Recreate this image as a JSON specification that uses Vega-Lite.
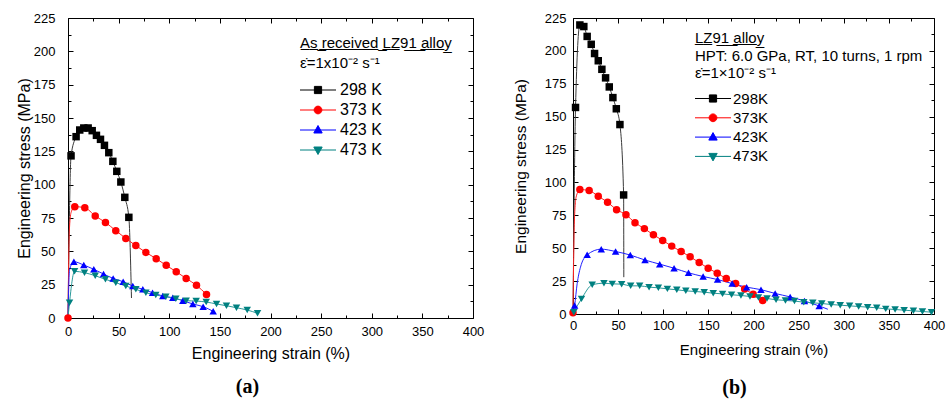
{
  "$schema": "https://vega.github.io/schema/vega-lite/v6.json",
  "background": "white",
  "padding": {"left": 15, "top": 11, "right": 5, "bottom": 5},
  "spacing": 28,
  "config": {
    "view": {"stroke": "#000", "strokeWidth": 1},
    "font": "Liberation Sans",
    "axis": {"grid": false, "domain": false, "tickColor": "#000", "tickWidth": 1, "labelColor": "#000", "titleColor": "#000", "titleFontWeight": "normal", "labelFont": "Liberation Sans", "titleFont": "Liberation Sans", "labelFlush": false, "labelOverlap": false},
    "legend": {"labelFont": "Liberation Sans", "titleFont": "Liberation Sans", "labelColor": "#000", "titleColor": "#000", "titleFontWeight": "normal", "symbolSize": 144, "symbolStrokeWidth": 1, "padding": 0, "titleLimit": 400}
  },
  "datasets": {
    "a": [
      {"series": "298 K", "strain": 0, "stress": 0, "kind": "curve"},
      {"series": "298 K", "strain": 3, "stress": 121.6, "kind": "marker"},
      {"series": "298 K", "strain": 8, "stress": 136, "kind": "marker"},
      {"series": "298 K", "strain": 11.6, "stress": 141, "kind": "marker"},
      {"series": "298 K", "strain": 15.6, "stress": 142.5, "kind": "marker"},
      {"series": "298 K", "strain": 19.9, "stress": 142.5, "kind": "marker"},
      {"series": "298 K", "strain": 23.9, "stress": 140.5, "kind": "marker"},
      {"series": "298 K", "strain": 28.1, "stress": 137, "kind": "marker"},
      {"series": "298 K", "strain": 32.1, "stress": 134, "kind": "marker"},
      {"series": "298 K", "strain": 36, "stress": 129.5, "kind": "marker"},
      {"series": "298 K", "strain": 40.3, "stress": 124, "kind": "marker"},
      {"series": "298 K", "strain": 44.3, "stress": 117.5, "kind": "marker"},
      {"series": "298 K", "strain": 48.2, "stress": 110, "kind": "marker"},
      {"series": "298 K", "strain": 52.2, "stress": 102, "kind": "marker"},
      {"series": "298 K", "strain": 56.1, "stress": 90.5, "kind": "marker"},
      {"series": "298 K", "strain": 60.1, "stress": 75.5, "kind": "marker"},
      {"series": "298 K", "strain": 62.7, "stress": 15, "kind": "curve"},
      {"series": "373 K", "strain": 0, "stress": 0, "kind": "marker"},
      {"series": "373 K", "strain": 1.3, "stress": 65, "kind": "curve"},
      {"series": "373 K", "strain": 3, "stress": 79, "kind": "curve"},
      {"series": "373 K", "strain": 6.7, "stress": 83.5, "kind": "marker"},
      {"series": "373 K", "strain": 16.6, "stress": 82.7, "kind": "marker"},
      {"series": "373 K", "strain": 26.9, "stress": 76.5, "kind": "marker"},
      {"series": "373 K", "strain": 37, "stress": 71.7, "kind": "marker"},
      {"series": "373 K", "strain": 47.2, "stress": 65.5, "kind": "marker"},
      {"series": "373 K", "strain": 57.1, "stress": 59.7, "kind": "marker"},
      {"series": "373 K", "strain": 67, "stress": 54.3, "kind": "marker"},
      {"series": "373 K", "strain": 76.9, "stress": 49.2, "kind": "marker"},
      {"series": "373 K", "strain": 87.1, "stress": 44.5, "kind": "marker"},
      {"series": "373 K", "strain": 97, "stress": 39.5, "kind": "marker"},
      {"series": "373 K", "strain": 106.9, "stress": 34.7, "kind": "marker"},
      {"series": "373 K", "strain": 116.7, "stress": 29.7, "kind": "marker"},
      {"series": "373 K", "strain": 126.9, "stress": 24.5, "kind": "marker"},
      {"series": "373 K", "strain": 136.8, "stress": 17.7, "kind": "marker"},
      {"series": "423 K", "strain": 0, "stress": 0, "kind": "curve"},
      {"series": "423 K", "strain": 1.5, "stress": 36, "kind": "curve"},
      {"series": "423 K", "strain": 5.8, "stress": 42.2, "kind": "marker"},
      {"series": "423 K", "strain": 15.6, "stress": 39.7, "kind": "marker"},
      {"series": "423 K", "strain": 25.5, "stress": 36.5, "kind": "marker"},
      {"series": "423 K", "strain": 35.1, "stress": 33, "kind": "marker"},
      {"series": "423 K", "strain": 44.6, "stress": 29.7, "kind": "marker"},
      {"series": "423 K", "strain": 54.5, "stress": 27.2, "kind": "marker"},
      {"series": "423 K", "strain": 64, "stress": 24, "kind": "marker"},
      {"series": "423 K", "strain": 73.9, "stress": 21.5, "kind": "marker"},
      {"series": "423 K", "strain": 83.5, "stress": 19, "kind": "marker"},
      {"series": "423 K", "strain": 93.6, "stress": 16.5, "kind": "marker"},
      {"series": "423 K", "strain": 103.5, "stress": 15.2, "kind": "marker"},
      {"series": "423 K", "strain": 113.4, "stress": 13, "kind": "marker"},
      {"series": "423 K", "strain": 123.3, "stress": 10.5, "kind": "marker"},
      {"series": "423 K", "strain": 133.5, "stress": 8.5, "kind": "marker"},
      {"series": "423 K", "strain": 143.4, "stress": 5, "kind": "marker"},
      {"series": "473 K", "strain": 0, "stress": 0, "kind": "curve"},
      {"series": "473 K", "strain": 1.5, "stress": 11.5, "kind": "marker"},
      {"series": "473 K", "strain": 6.5, "stress": 35, "kind": "marker"},
      {"series": "473 K", "strain": 16.3, "stress": 34, "kind": "marker"},
      {"series": "473 K", "strain": 26.9, "stress": 31.7, "kind": "marker"},
      {"series": "473 K", "strain": 37, "stress": 29, "kind": "marker"},
      {"series": "473 K", "strain": 47.2, "stress": 26.5, "kind": "marker"},
      {"series": "473 K", "strain": 57.1, "stress": 24, "kind": "marker"},
      {"series": "473 K", "strain": 67, "stress": 21.5, "kind": "marker"},
      {"series": "473 K", "strain": 76.9, "stress": 19, "kind": "marker"},
      {"series": "473 K", "strain": 86.7, "stress": 17.2, "kind": "marker"},
      {"series": "473 K", "strain": 96.6, "stress": 16, "kind": "marker"},
      {"series": "473 K", "strain": 106.5, "stress": 14.5, "kind": "marker"},
      {"series": "473 K", "strain": 116.7, "stress": 13, "kind": "marker"},
      {"series": "473 K", "strain": 126.6, "stress": 12.7, "kind": "marker"},
      {"series": "473 K", "strain": 136.5, "stress": 12, "kind": "marker"},
      {"series": "473 K", "strain": 146.7, "stress": 10.5, "kind": "marker"},
      {"series": "473 K", "strain": 156.5, "stress": 9.2, "kind": "marker"},
      {"series": "473 K", "strain": 166.4, "stress": 7.7, "kind": "marker"},
      {"series": "473 K", "strain": 177, "stress": 6, "kind": "marker"},
      {"series": "473 K", "strain": 187.2, "stress": 3.5, "kind": "marker"}
    ],
    "b": [
      {"series": "298K", "strain": 0, "stress": 0, "kind": "curve"},
      {"series": "298K", "strain": 2.8, "stress": 157, "kind": "marker"},
      {"series": "298K", "strain": 7.6, "stress": 219.7, "kind": "marker"},
      {"series": "298K", "strain": 12, "stress": 218.5, "kind": "marker"},
      {"series": "298K", "strain": 15.7, "stress": 211, "kind": "marker"},
      {"series": "298K", "strain": 20.2, "stress": 205, "kind": "marker"},
      {"series": "298K", "strain": 23.9, "stress": 198, "kind": "marker"},
      {"series": "298K", "strain": 28, "stress": 192.5, "kind": "marker"},
      {"series": "298K", "strain": 32, "stress": 186, "kind": "marker"},
      {"series": "298K", "strain": 36.1, "stress": 179.5, "kind": "marker"},
      {"series": "298K", "strain": 40.2, "stress": 172.6, "kind": "marker"},
      {"series": "298K", "strain": 44.2, "stress": 164.5, "kind": "marker"},
      {"series": "298K", "strain": 48, "stress": 156, "kind": "marker"},
      {"series": "298K", "strain": 52, "stress": 144, "kind": "marker"},
      {"series": "298K", "strain": 56.1, "stress": 90.5, "kind": "marker"},
      {"series": "298K", "strain": 56.3, "stress": 28, "kind": "curve"},
      {"series": "373K", "strain": 0, "stress": 1, "kind": "marker"},
      {"series": "373K", "strain": 1.5, "stress": 70, "kind": "curve"},
      {"series": "373K", "strain": 3.5, "stress": 89, "kind": "curve"},
      {"series": "373K", "strain": 7.6, "stress": 94.6, "kind": "marker"},
      {"series": "373K", "strain": 17.9, "stress": 93.8, "kind": "marker"},
      {"series": "373K", "strain": 28, "stress": 89.5, "kind": "marker"},
      {"series": "373K", "strain": 38.3, "stress": 84.9, "kind": "marker"},
      {"series": "373K", "strain": 48.3, "stress": 79.3, "kind": "marker"},
      {"series": "373K", "strain": 58.7, "stress": 75.5, "kind": "marker"},
      {"series": "373K", "strain": 68.7, "stress": 69.4, "kind": "marker"},
      {"series": "373K", "strain": 79.1, "stress": 64.9, "kind": "marker"},
      {"series": "373K", "strain": 89.1, "stress": 60.2, "kind": "marker"},
      {"series": "373K", "strain": 99.4, "stress": 55.9, "kind": "marker"},
      {"series": "373K", "strain": 109.4, "stress": 51.6, "kind": "marker"},
      {"series": "373K", "strain": 119.8, "stress": 47.5, "kind": "marker"},
      {"series": "373K", "strain": 129.8, "stress": 43.5, "kind": "marker"},
      {"series": "373K", "strain": 139.8, "stress": 39.1, "kind": "marker"},
      {"series": "373K", "strain": 149.8, "stress": 34.8, "kind": "marker"},
      {"series": "373K", "strain": 159.8, "stress": 31, "kind": "marker"},
      {"series": "373K", "strain": 169.8, "stress": 26.9, "kind": "marker"},
      {"series": "373K", "strain": 180.2, "stress": 23.1, "kind": "marker"},
      {"series": "373K", "strain": 190.2, "stress": 19, "kind": "marker"},
      {"series": "373K", "strain": 199.6, "stress": 15, "kind": "marker"},
      {"series": "373K", "strain": 210.2, "stress": 10.2, "kind": "marker"},
      {"series": "423K", "strain": 0, "stress": 0, "kind": "curve"},
      {"series": "423K", "strain": 1.8, "stress": 6.5, "kind": "marker"},
      {"series": "423K", "strain": 4.6, "stress": 23, "kind": "curve"},
      {"series": "423K", "strain": 8.3, "stress": 35.6, "kind": "curve"},
      {"series": "423K", "strain": 15.7, "stress": 45, "kind": "marker"},
      {"series": "423K", "strain": 31.3, "stress": 49.3, "kind": "marker"},
      {"series": "423K", "strain": 47.2, "stress": 47.5, "kind": "marker"},
      {"series": "423K", "strain": 63.5, "stress": 44.8, "kind": "marker"},
      {"series": "423K", "strain": 79.8, "stress": 41, "kind": "marker"},
      {"series": "423K", "strain": 96.1, "stress": 37.9, "kind": "marker"},
      {"series": "423K", "strain": 112, "stress": 34.8, "kind": "marker"},
      {"series": "423K", "strain": 128, "stress": 31.3, "kind": "marker"},
      {"series": "423K", "strain": 144.2, "stress": 28.5, "kind": "marker"},
      {"series": "423K", "strain": 160.2, "stress": 26.2, "kind": "marker"},
      {"series": "423K", "strain": 176.4, "stress": 23.1, "kind": "marker"},
      {"series": "423K", "strain": 192.4, "stress": 20.4, "kind": "marker"},
      {"series": "423K", "strain": 208.3, "stress": 18.5, "kind": "marker"},
      {"series": "423K", "strain": 224, "stress": 15.6, "kind": "marker"},
      {"series": "423K", "strain": 240.6, "stress": 13, "kind": "marker"},
      {"series": "423K", "strain": 256.5, "stress": 9.9, "kind": "marker"},
      {"series": "423K", "strain": 272.8, "stress": 6.1, "kind": "marker"},
      {"series": "423K", "strain": 282.4, "stress": 3.6, "kind": "curve"},
      {"series": "473K", "strain": 0.9, "stress": 1.4, "kind": "marker"},
      {"series": "473K", "strain": 9.4, "stress": 11.5, "kind": "marker"},
      {"series": "473K", "strain": 21.3, "stress": 22.2, "kind": "marker"},
      {"series": "473K", "strain": 34.3, "stress": 23.4, "kind": "marker"},
      {"series": "473K", "strain": 43.5, "stress": 22.9, "kind": "marker"},
      {"series": "473K", "strain": 53.9, "stress": 22.7, "kind": "marker"},
      {"series": "473K", "strain": 63.9, "stress": 21.4, "kind": "marker"},
      {"series": "473K", "strain": 73.9, "stress": 21.4, "kind": "marker"},
      {"series": "473K", "strain": 84.3, "stress": 20.4, "kind": "marker"},
      {"series": "473K", "strain": 94.6, "stress": 19.9, "kind": "marker"},
      {"series": "473K", "strain": 104.6, "stress": 19.1, "kind": "marker"},
      {"series": "473K", "strain": 115, "stress": 18.4, "kind": "marker"},
      {"series": "473K", "strain": 125, "stress": 17.6, "kind": "marker"},
      {"series": "473K", "strain": 135.4, "stress": 17.1, "kind": "marker"},
      {"series": "473K", "strain": 145.4, "stress": 16.6, "kind": "marker"},
      {"series": "473K", "strain": 155.4, "stress": 15.8, "kind": "marker"},
      {"series": "473K", "strain": 165.7, "stress": 15.3, "kind": "marker"},
      {"series": "473K", "strain": 175.7, "stress": 14.6, "kind": "marker"},
      {"series": "473K", "strain": 186.1, "stress": 14.1, "kind": "marker"},
      {"series": "473K", "strain": 196.1, "stress": 13.3, "kind": "marker"},
      {"series": "473K", "strain": 205.5, "stress": 12.6, "kind": "marker"},
      {"series": "473K", "strain": 215, "stress": 11.8, "kind": "marker"},
      {"series": "473K", "strain": 225, "stress": 10.8, "kind": "marker"},
      {"series": "473K", "strain": 235.4, "stress": 10.3, "kind": "marker"},
      {"series": "473K", "strain": 245.4, "stress": 9.8, "kind": "marker"},
      {"series": "473K", "strain": 255.7, "stress": 9, "kind": "marker"},
      {"series": "473K", "strain": 265.7, "stress": 8.5, "kind": "marker"},
      {"series": "473K", "strain": 275.7, "stress": 8, "kind": "marker"},
      {"series": "473K", "strain": 286.1, "stress": 7.2, "kind": "marker"},
      {"series": "473K", "strain": 296.1, "stress": 6.7, "kind": "marker"},
      {"series": "473K", "strain": 306.5, "stress": 6.2, "kind": "marker"},
      {"series": "473K", "strain": 316.5, "stress": 5.7, "kind": "marker"},
      {"series": "473K", "strain": 326.5, "stress": 5.2, "kind": "marker"},
      {"series": "473K", "strain": 336.5, "stress": 4.7, "kind": "marker"},
      {"series": "473K", "strain": 346.5, "stress": 3.9, "kind": "marker"},
      {"series": "473K", "strain": 356.9, "stress": 3.4, "kind": "marker"},
      {"series": "473K", "strain": 366.9, "stress": 2.9, "kind": "marker"},
      {"series": "473K", "strain": 377.2, "stress": 2.4, "kind": "marker"},
      {"series": "473K", "strain": 387.2, "stress": 1.9, "kind": "marker"},
      {"series": "473K", "strain": 397.2, "stress": 1.4, "kind": "marker"}
    ]
  },
  "hconcat": [
    {
      "width": 405,
      "height": 300,
      "data": {"name": "a"},
      "title": {"text": "(a)", "orient": "bottom", "anchor": "middle", "font": "Liberation Serif", "fontSize": 20, "fontWeight": "bold", "color": "#000", "offset": 16, "dx": -23},
      "layer": [
        {
          "mark": {"type": "line", "interpolate": "monotone", "strokeWidth": 1},
          "encoding": {
            "x": {"field": "strain", "type": "quantitative", "scale": {"domain": [0, 400], "nice": false, "zero": false},
                  "axis": {"orient": "bottom", "values": [0, 50, 100, 150, 200, 250, 300, 350, 400], "tickSize": -5, "labelFontSize": 13, "labelPadding": 12, "title": "Engineering strain (%)", "titleFontSize": 16, "titlePadding": 7}},
            "y": {"field": "stress", "type": "quantitative", "scale": {"domain": [0, 225], "nice": false, "zero": false},
                  "axis": {"orient": "left", "values": [0, 25, 50, 75, 100, 125, 150, 175, 200, 225], "tickSize": -5, "labelFontSize": 13, "labelPadding": 18, "title": "Engineering stress (MPa)", "titleFontSize": 16, "titlePadding": 1}},
            "color": {"field": "series", "type": "nominal", "scale": {"domain": ["298 K", "373 K", "423 K", "473 K"], "range": ["#3a3a3a", "#ff2020", "#2020ff", "#2a9a9a"]}, "legend": null}
          }
        },
        {
          "transform": [{"filter": "datum.kind === 'marker'"}],
          "mark": {"type": "point", "filled": true, "opacity": 1, "size": 56},
          "encoding": {
            "x": {"field": "strain", "type": "quantitative", "axis": {"orient": "top", "values": [0, 50, 100, 150, 200, 250, 300, 350, 400], "tickSize": -5, "labels": false, "title": null}},
            "y": {"field": "stress", "type": "quantitative", "axis": {"orient": "right", "values": [0, 25, 50, 75, 100, 125, 150, 175, 200, 225], "tickSize": -5, "labels": false, "title": null}},
            "color": {"field": "series", "type": "nominal", "scale": {"domain": ["298 K", "373 K", "423 K", "473 K"], "range": ["#000000", "#ff0000", "#0000ff", "#008080"]},
              "legend": {
                "title": ["A\u0332s\u0332 \u0332r\u0332e\u0332c\u0332e\u0332i\u0332v\u0332e\u0332d\u0332 \u0332L\u0332Z\u03329\u03321\u0332 \u0332a\u0332l\u0332l\u0332o\u0332y\u0332", "\u03b5\u0307=1x10\u207b\u00b2 s\u207b\u00b9"],
                "orient": "none", "legendX": 232, "legendY": 18,
                "titleFontSize": 15, "titleLineHeight": 20, "titlePadding": 11,
                "labelFontSize": 16, "labelOffset": 24, "rowPadding": 4,
                "encoding": {"symbols": {
                  "x": {"value": 18},
                  "shape": {"value": {"expr": "datum.value === '298 K' ? 'M-3,0H3M-0.6,-0.6H0.6V0.6H-0.6Z' : datum.value === '373 K' ? 'M-3,0H3M-0.65,0A0.65,0.65,0,1,1,0.65,0A0.65,0.65,0,1,1,-0.65,0Z' : datum.value === '423 K' ? 'M-3,0H3M0,-0.75L0.7,0.5H-0.7Z' : 'M-3,0H3M0,0.75L0.7,-0.5H-0.7Z'"}},
                  "fill": {"value": {"expr": "datum.value === '298 K' ? '#000000' : datum.value === '373 K' ? '#ff0000' : datum.value === '423 K' ? '#0000ff' : '#008080'"}},
                  "stroke": {"value": {"expr": "datum.value === '298 K' ? '#000000' : datum.value === '373 K' ? '#ff0000' : datum.value === '423 K' ? '#0000ff' : '#008080'"}}
                }}
              }},
            "shape": {"field": "series", "type": "nominal", "scale": {"domain": ["298 K", "373 K", "423 K", "473 K"], "range": ["square", "circle", "triangle-up", "triangle-down"]}, "legend": null}
          }
        },
        {
          "mark": {"type": "point", "opacity": 0},
          "encoding": {
            "x": {"field": "strain", "type": "quantitative", "axis": {"orient": "bottom", "values": [25, 75, 125, 175, 225, 275, 325, 375], "tickSize": -3, "labels": false, "title": null}},
            "y": {"field": "stress", "type": "quantitative", "axis": {"orient": "left", "values": [12.5, 37.5, 62.5, 87.5, 112.5, 137.5, 162.5, 187.5, 212.5], "tickSize": -3, "labels": false, "title": null}}
          }
        },
        {
          "mark": {"type": "point", "opacity": 0},
          "encoding": {
            "x": {"field": "strain", "type": "quantitative", "axis": {"orient": "top", "values": [25, 75, 125, 175, 225, 275, 325, 375], "tickSize": -3, "labels": false, "title": null}},
            "y": {"field": "stress", "type": "quantitative", "axis": {"orient": "right", "values": [12.5, 37.5, 62.5, 87.5, 112.5, 137.5, 162.5, 187.5, 212.5], "tickSize": -3, "labels": false, "title": null}}
          }
        }
      ],
      "resolve": {"axis": {"x": "independent", "y": "independent"}, "scale": {"color": "independent"}}
    },
    {
      "width": 361,
      "height": 296,
      "data": {"name": "b"},
      "title": {"text": "(b)", "orient": "bottom", "anchor": "middle", "font": "Liberation Serif", "fontSize": 20, "fontWeight": "bold", "color": "#000", "offset": 21, "dx": -19},
      "layer": [
        {
          "mark": {"type": "line", "interpolate": "monotone", "strokeWidth": 1},
          "encoding": {
            "x": {"field": "strain", "type": "quantitative", "scale": {"domain": [0, 400], "nice": false, "zero": false},
                  "axis": {"orient": "bottom", "values": [0, 50, 100, 150, 200, 250, 300, 350, 400], "tickSize": -5, "labelFontSize": 13, "labelPadding": 10, "title": "Engineering strain (%)", "titleFontSize": 15, "titlePadding": 10}},
            "y": {"field": "stress", "type": "quantitative", "scale": {"domain": [0, 225], "nice": false, "zero": false},
                  "axis": {"orient": "left", "values": [0, 25, 50, 75, 100, 125, 150, 175, 200, 225], "tickSize": -5, "labelFontSize": 13, "labelPadding": 12, "title": "Engineering stress (MPa)", "titleFontSize": 15.5, "titlePadding": 15.5}},
            "color": {"field": "series", "type": "nominal", "scale": {"domain": ["298K", "373K", "423K", "473K"], "range": ["#3a3a3a", "#ff2020", "#2020ff", "#2a9a9a"]}, "legend": null}
          }
        },
        {
          "transform": [{"filter": "datum.kind === 'marker'"}],
          "mark": {"type": "point", "filled": true, "opacity": 1, "size": 56},
          "encoding": {
            "x": {"field": "strain", "type": "quantitative", "axis": {"orient": "top", "values": [0, 50, 100, 150, 200, 250, 300, 350, 400], "tickSize": -5, "labels": false, "title": null}},
            "y": {"field": "stress", "type": "quantitative", "axis": {"orient": "right", "values": [0, 25, 50, 75, 100, 125, 150, 175, 200, 225], "tickSize": -5, "labels": false, "title": null}},
            "color": {"field": "series", "type": "nominal", "scale": {"domain": ["298K", "373K", "423K", "473K"], "range": ["#000000", "#ff0000", "#0000ff", "#008080"]},
              "legend": {
                "title": ["L\u0332Z\u03329\u03321\u0332 \u0332a\u0332l\u0332l\u0332o\u0332y\u0332", "HPT: 6.0 GPa, RT, 10 turns, 1 rpm", "\u03b5\u0307=1\u00d710\u207b\u00b2 s\u207b\u00b9"],
                "orient": "none", "legendX": 122, "legendY": 13,
                "titleFontSize": 15, "titleLineHeight": 17.5, "titlePadding": 10,
                "labelFontSize": 15, "labelOffset": 23, "rowPadding": 3.3,
                "encoding": {"symbols": {
                  "x": {"value": 18},
                  "shape": {"value": {"expr": "datum.value === '298K' ? 'M-3,0H3M-0.6,-0.6H0.6V0.6H-0.6Z' : datum.value === '373K' ? 'M-3,0H3M-0.65,0A0.65,0.65,0,1,1,0.65,0A0.65,0.65,0,1,1,-0.65,0Z' : datum.value === '423K' ? 'M-3,0H3M0,-0.75L0.7,0.5H-0.7Z' : 'M-3,0H3M0,0.75L0.7,-0.5H-0.7Z'"}},
                  "fill": {"value": {"expr": "datum.value === '298K' ? '#000000' : datum.value === '373K' ? '#ff0000' : datum.value === '423K' ? '#0000ff' : '#008080'"}},
                  "stroke": {"value": {"expr": "datum.value === '298K' ? '#000000' : datum.value === '373K' ? '#ff0000' : datum.value === '423K' ? '#0000ff' : '#008080'"}}
                }}
              }},
            "shape": {"field": "series", "type": "nominal", "scale": {"domain": ["298K", "373K", "423K", "473K"], "range": ["square", "circle", "triangle-up", "triangle-down"]}, "legend": null}
          }
        },
        {
          "mark": {"type": "point", "opacity": 0},
          "encoding": {
            "x": {"field": "strain", "type": "quantitative", "axis": {"orient": "bottom", "values": [25, 75, 125, 175, 225, 275, 325, 375], "tickSize": -3, "labels": false, "title": null}},
            "y": {"field": "stress", "type": "quantitative", "axis": {"orient": "left", "values": [12.5, 37.5, 62.5, 87.5, 112.5, 137.5, 162.5, 187.5, 212.5], "tickSize": -3, "labels": false, "title": null}}
          }
        },
        {
          "mark": {"type": "point", "opacity": 0},
          "encoding": {
            "x": {"field": "strain", "type": "quantitative", "axis": {"orient": "top", "values": [25, 75, 125, 175, 225, 275, 325, 375], "tickSize": -3, "labels": false, "title": null}},
            "y": {"field": "stress", "type": "quantitative", "axis": {"orient": "right", "values": [12.5, 37.5, 62.5, 87.5, 112.5, 137.5, 162.5, 187.5, 212.5], "tickSize": -3, "labels": false, "title": null}}
          }
        }
      ],
      "resolve": {"axis": {"x": "independent", "y": "independent"}, "scale": {"color": "independent"}}
    }
  ]
}
